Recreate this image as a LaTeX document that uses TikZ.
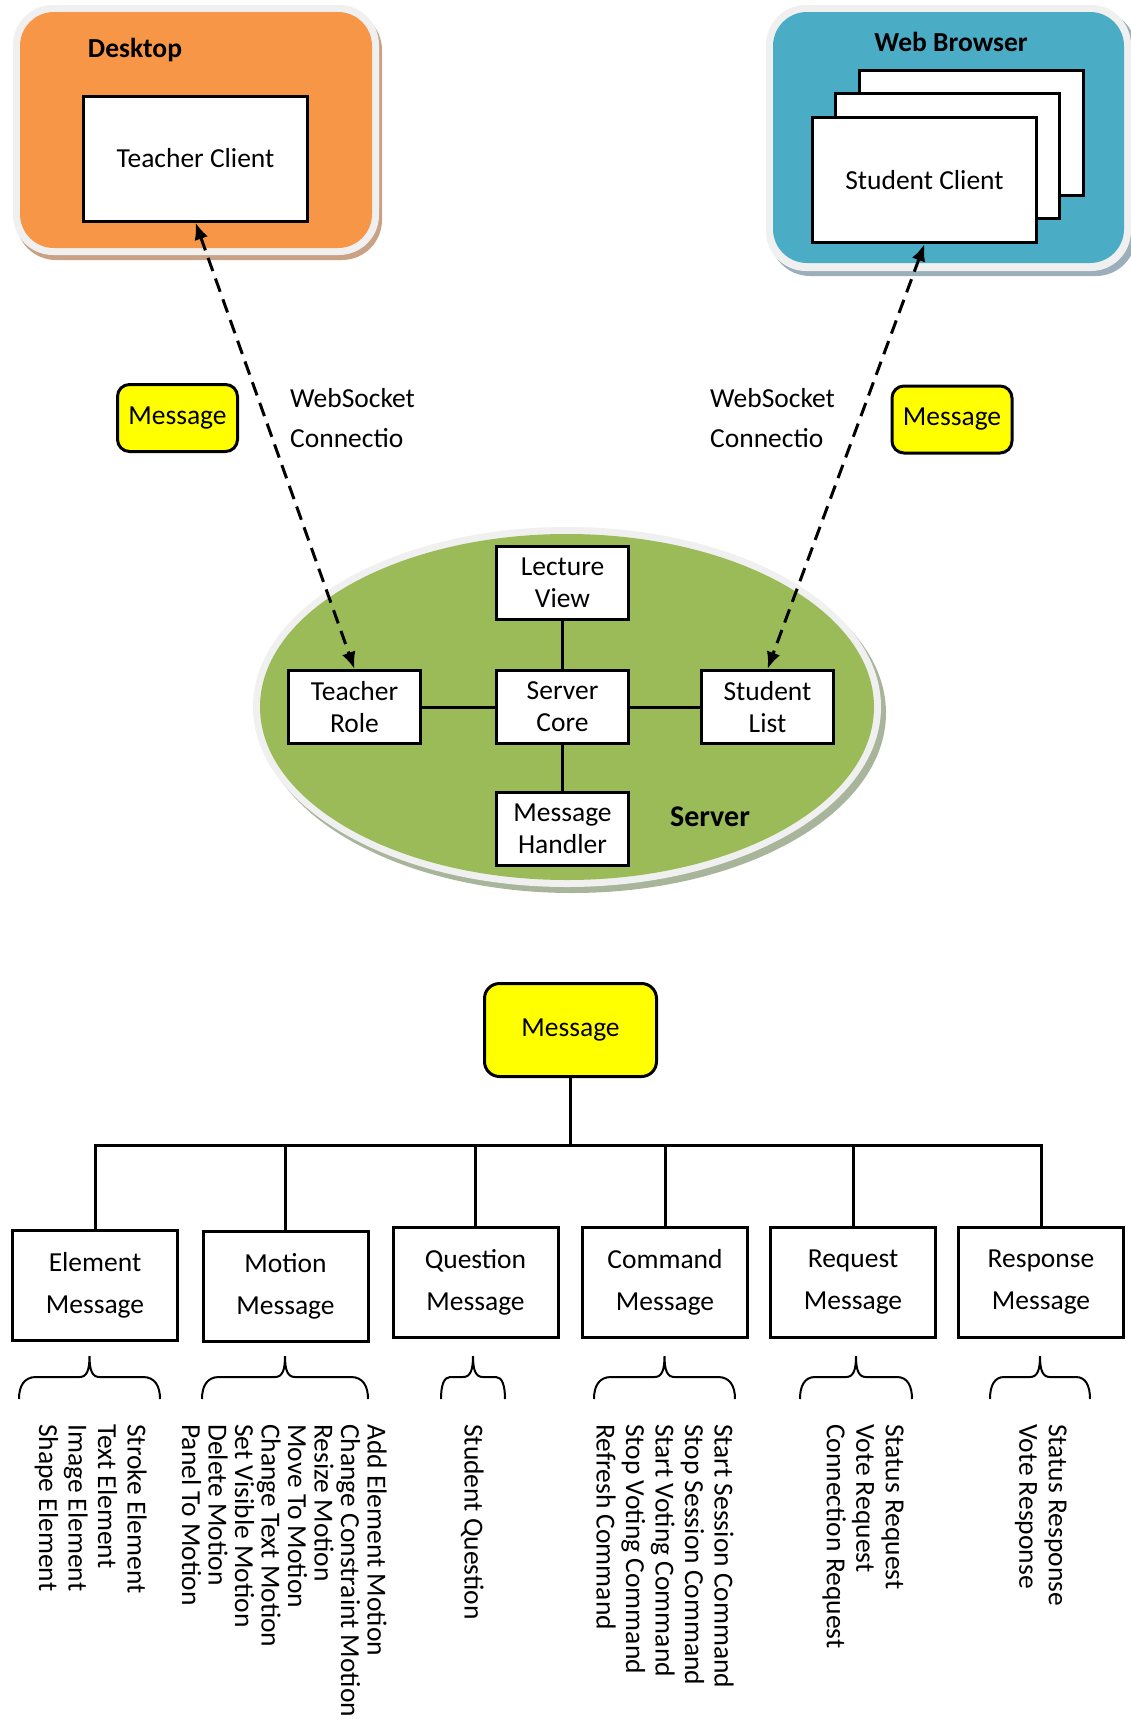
\documentclass[tikz,border=0pt]{standalone}
\usepackage{fontspec}
\setmainfont{Carlito}
\usetikzlibrary{arrows.meta}

\definecolor{deskorange}{HTML}{F79646}
\definecolor{webblue}{HTML}{4BACC6}
\definecolor{srvgreen}{HTML}{9BBB59}
\definecolor{msgyellow}{HTML}{FFFF00}
\definecolor{rim}{HTML}{F0F0F0}
\definecolor{shadeorange}{HTML}{C9A184}
\definecolor{shadeblue}{HTML}{9AAFB9}
\definecolor{shadegreen}{HTML}{A8B59A}

% curly brace opening downwards: #1 left end, #2 right end, #3 width of the end curves
\newcommand\curlybrace[3]{%
  \pgfmathsetmacro\bmid{(#1+#2)/2}
  \draw[bracestyle] (#1,1399) .. controls (#1,1386) and (#1+#3*0.3,1377) .. (#1+#3,1377)
     -- (\bmid-10,1377) .. controls (\bmid-3,1377) and (\bmid,1371) .. (\bmid,1356)
     .. controls (\bmid,1371) and (\bmid+3,1377) .. (\bmid+10,1377)
     -- (#2-#3,1377) .. controls (#2-#3*0.3,1377) and (#2,1386) .. (#2,1399);}

\begin{document}
\begin{tikzpicture}[x=1pt,y=-1pt,
  every node/.style={font=\fontsize{27.5pt}{32pt}\selectfont},
  wbox/.style={draw, line width=3pt, fill=white, inner sep=0pt, align=center},
  clientbox/.style={wbox, minimum width=224pt, minimum height=125pt},
  srvbox/.style={wbox, minimum width=132pt, minimum height=73pt},
  typebox/.style={wbox, minimum width=165pt, minimum height=110pt,
    font=\fontsize{27.5pt}{42pt}\selectfont},
  msgbox/.style={draw, line width=3pt, fill=msgyellow, rounded corners=12pt,
    minimum width=120pt, minimum height=67pt, inner sep=0pt},
  title/.style={font=\fontsize{27.5pt}{32pt}\selectfont\bfseries},
  wslabel/.style={align=left, anchor=west, inner sep=0pt,
    font=\fontsize{27.5pt}{40pt}\selectfont},
  sublist/.style={align=left, inner sep=0pt, rotate=-90, anchor=north west},
  link/.style={line width=3pt},
  wsarrow/.style={line width=3pt, dash pattern=on 14pt off 8pt,
    {Latex[length=17pt,width=14pt]}-{Latex[length=17pt,width=14pt]}},
  bracestyle/.style={line width=2pt},
]
\useasboundingbox (0,0) rectangle (1131,1719);
\fill[white] (0,0) rectangle (1131,1719);

% ---- Desktop ----
\fill[shadeorange, rounded corners=40pt] (16,10) rectangle (382,260);
\fill[rim, rounded corners=40pt] (13,5) rectangle (379,255);
\fill[deskorange, rounded corners=34pt] (20,12) rectangle (372,248);
\node[title] (desk) at (135,50) {Desktop};
\node[clientbox] (tc) at (195.5,158.5) {Teacher Client};

% ---- Web browser ----
\fill[shadeblue, rounded corners=40pt] (770,10) rectangle (1136,276);
\fill[rim, rounded corners=40pt] (766,5) rectangle (1131,271);
\fill[webblue, rounded corners=34pt] (773,12) rectangle (1124,263);
\node[title] (web) at (951,42) {Web Browser};
\node[clientbox] (sc3) at (971.5,132.5) {};
\node[clientbox] (sc2) at (947.5,155.5) {};
\node[clientbox] (sc) at (924.5,180) {Student Client};

% ---- Server ----
\fill[shadegreen] (572,713) ellipse [x radius=314pt, y radius=180pt];
\fill[rim] (567,707) ellipse [x radius=314pt, y radius=180pt];
\fill[srvgreen] (567,707) ellipse [x radius=307pt, y radius=173pt];
\node[srvbox] (lv) at (562.5,583) {Lecture\\View};
\node[srvbox] (tr) at (354.5,707) {Teacher\\Role};
\node[srvbox] (core) at (562.5,707) {Server\\Core};
\node[srvbox] (sl) at (767.5,707) {Student\\List};
\node[srvbox] (mh) at (562.5,828.5) {Message\\Handler};
\node[title, font=\fontsize{30pt}{34pt}\selectfont\bfseries] (srv) at (710,817) {Server};
\draw[link] (lv) -- (core);
\draw[link] (tr) -- (core);
\draw[link] (core) -- (sl);
\draw[link] (core) -- (mh);

% ---- WebSocket connections ----
\node[msgbox] (msgl) at (177.5,418) {Message};
\node[msgbox] (msgr) at (952,419.5) {Message};
\node[wslabel] (wsl) at (290,418) {WebSocket\\Connectio};
\node[wslabel] (wsr) at (710,418) {WebSocket\\Connectio};
\draw[wsarrow] (tc.south) -- (tr.north);
\draw[wsarrow] (sc.south) -- (sl.north);

% ---- Message hierarchy ----
\node[msgbox, minimum width=172pt, minimum height=93pt, rounded corners=15pt] (msg) at (570.5,1030) {Message};
\coordinate (bus) at (570.5,1145);
\node[typebox] (elem) at (95,1285.5) {Element\\Message};
\node[typebox] (motion) at (285.5,1286) {Motion\\Message};
\node[typebox] (quest) at (475.5,1282.5) {Question\\Message};
\node[typebox] (cmd) at (665,1282.5) {Command\\Message};
\node[typebox] (req) at (853,1282.5) {Request\\Message};
\node[typebox] (resp) at (1041,1282.5) {Response\\Message};
\draw[link] (msg.south) -- (bus);
\draw[link] (elem.north) |- (bus) -| (resp.north);
\foreach \b in {motion,quest,cmd,req}
  \draw[link] (\b.north) -- (\b.north |- bus);

% ---- braces ----
\curlybrace{19}{160}{17}
\curlybrace{202}{368}{17}
\curlybrace{441}{505}{9}
\curlybrace{594}{735}{17}
\curlybrace{800}{912}{15}
\curlybrace{990}{1090}{14}

% ---- sub-type lists ----
\node[sublist, font=\fontsize{27.5pt}{29.5pt}\selectfont] (elist) at (147,1424)
  {Stroke Element\\Text Element\\Image Element\\Shape Element};
\node[sublist, font=\fontsize{27.5pt}{26.5pt}\selectfont] (mlist) at (387,1424)
  {Add Element Motion\\Change Constraint Motion\\Resize Motion\\Move To Motion\\Change Text Motion\\Set Visible Motion\\Delete Motion\\Panel To Motion};
\node[sublist, font=\fontsize{27.5pt}{29.5pt}\selectfont] (qlist) at (484,1424)
  {Student Question};
\node[sublist, font=\fontsize{27.5pt}{29.5pt}\selectfont] (clist) at (734,1424)
  {Start Session Command\\Stop Session Command\\Start Voting Command\\Stop Voting Command\\Refresh Command};
\node[sublist, font=\fontsize{27.5pt}{29.5pt}\selectfont] (rlist) at (904,1424)
  {Status Request\\Vote Request\\Connection Request};
\node[sublist, font=\fontsize{27.5pt}{29.5pt}\selectfont] (plist) at (1067,1424)
  {Status Response\\Vote Response};
\end{tikzpicture}
\end{document}
